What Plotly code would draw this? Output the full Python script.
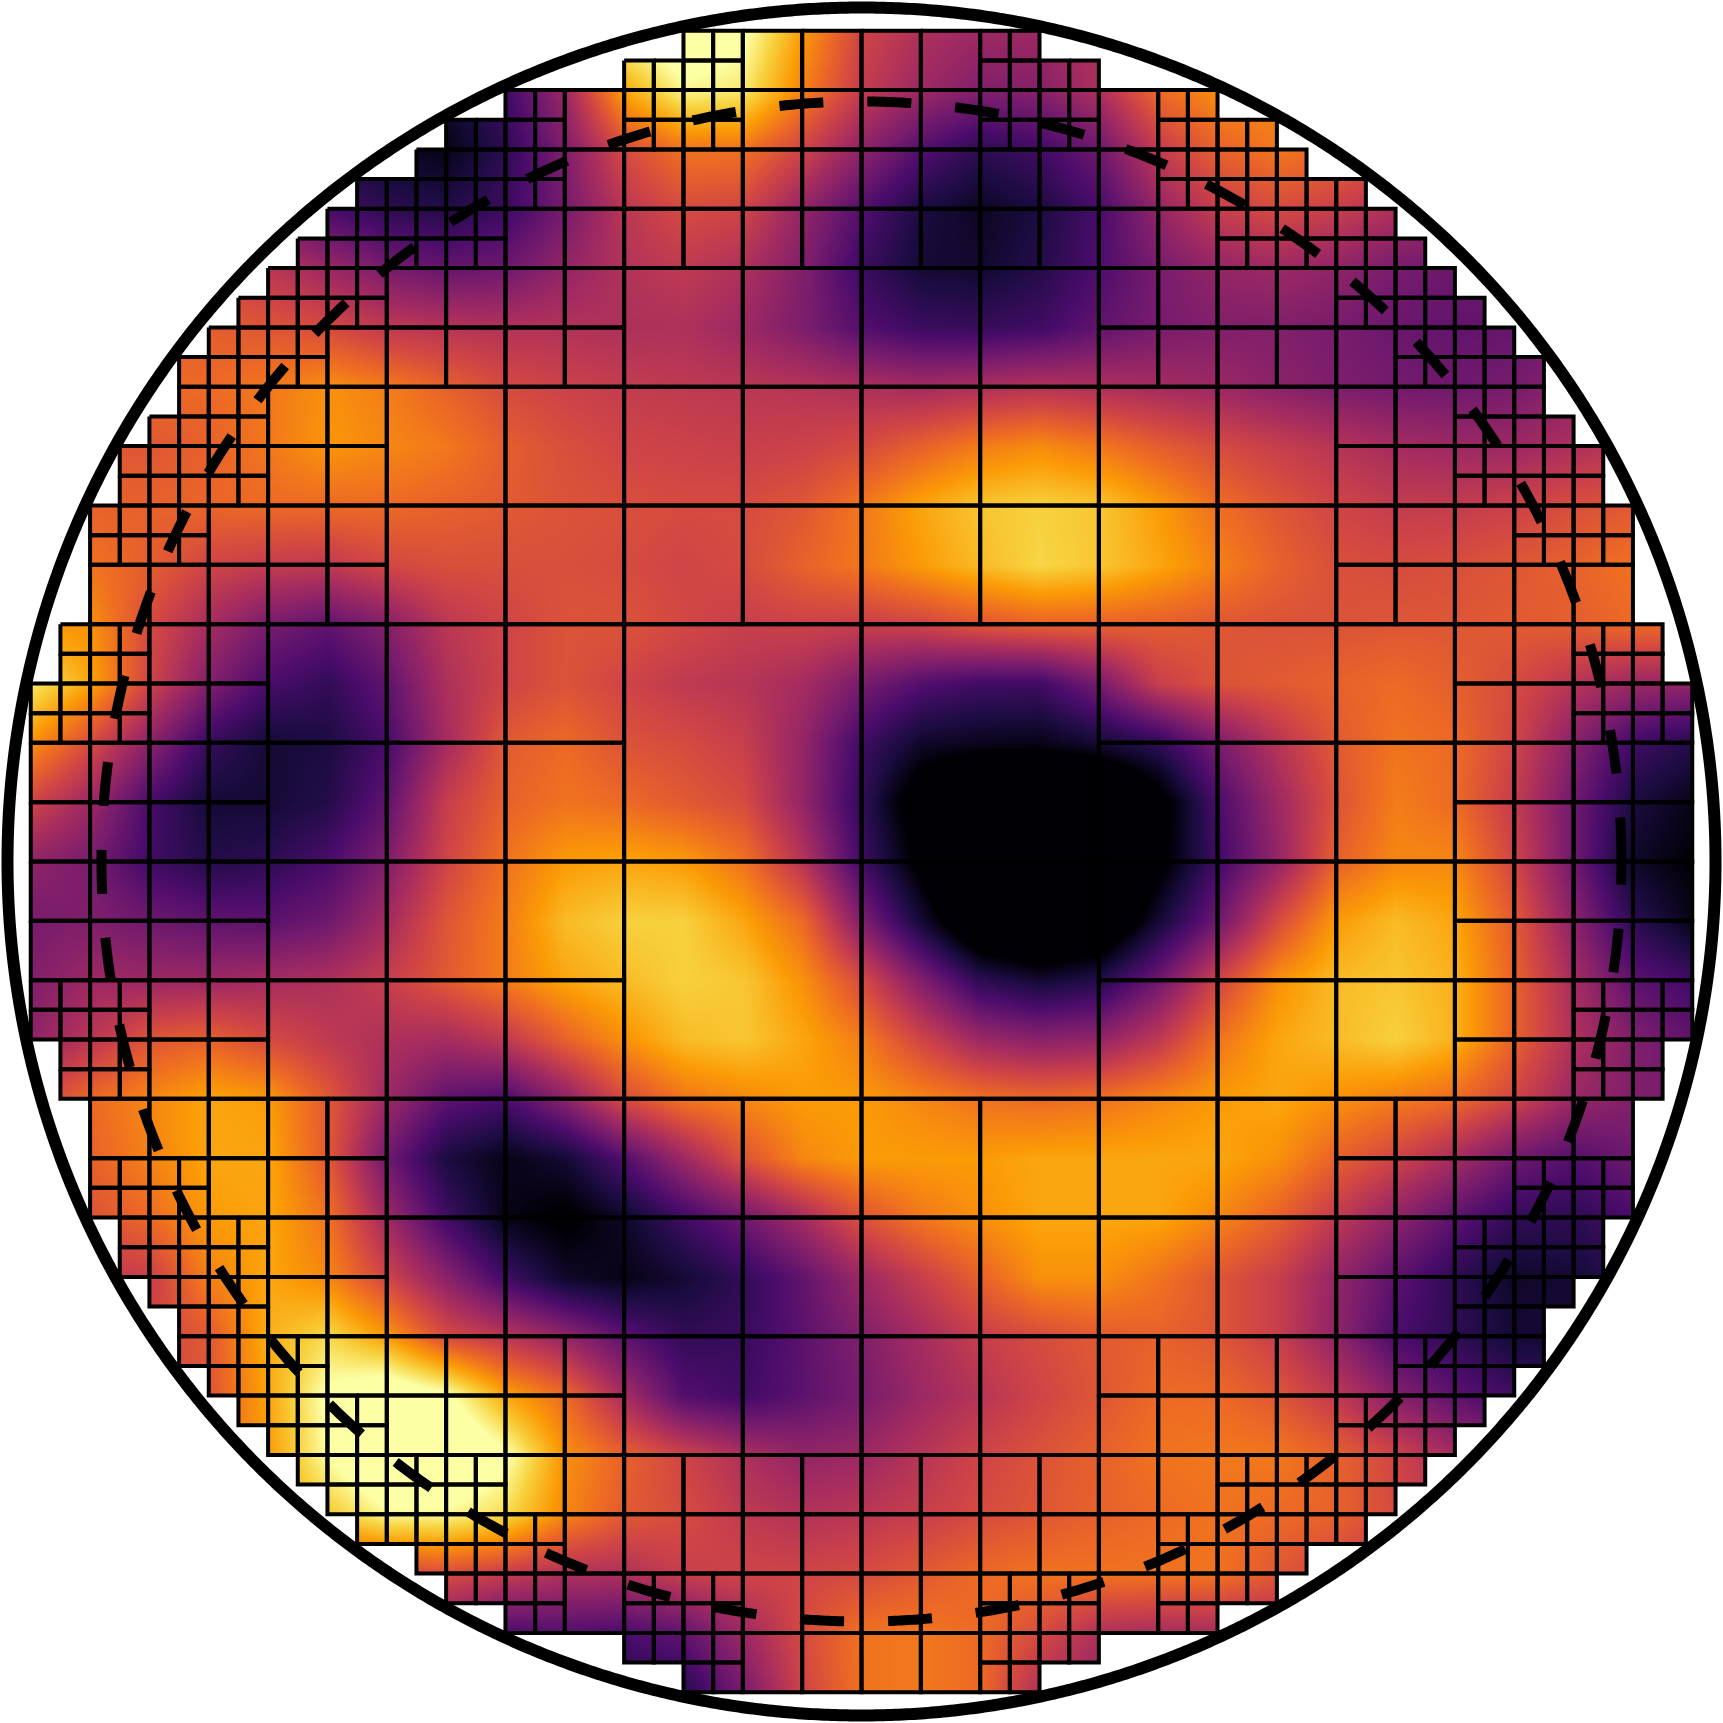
import numpy as np
import plotly.graph_objects as go

# half width of the masked grid per fine row, top half only (bottom mirrors it)
half_widths = [6, 8, 12, 14, 15, 17, 18, 19, 20, 21, 22, 23, 23, 24,
               25, 25, 26, 26, 26, 26, 27, 27, 28, 28, 28, 28, 28, 28]

# refinement map, one char per 2x2 fine block: f = split in 4, 2 = single block, 4 / 8 = part of a larger cell
tree_rows = [
    "..........ff2222ff..........",
    ".......ff2ff2222ff2ff.......",
    ".....ffff2222222222ffff.....",
    "....ffff222222222222ffff....",
    "...fff222244444444" + "2222fff...",
    "..fff22222444444442" + "2222fff..",
    "..ff224444444444444444" + "22ff..",
    ".fff224444444444444444" + "22fff.",
    ".ff222444444444444444" + "4222ff.",
    ".22222444444444444444" + "422222.",
    "ff2244444488888888444444" + "22ff",
    "ff2244444488888888444444" + "22ff",
    "2222444444888888884444442222",
    "2222444444888888884444442222",
    "2222444444888888884444442222",
    "2222444444888888884444442222",
    "ff2244444488888888444444" + "22ff",
    "ff2244444488888888444444" + "22ff",
    ".22222444444444444444" + "422222.",
    ".ff222444444444444444" + "4222ff.",
    ".fff224444444444444444" + "22fff.",
    "..ff224444444444444444" + "22ff..",
    "..fff2222244444444" + "22222fff..",
    "...fff222244444444" + "2222fff...",
    "....ffff222222222222ffff....",
    ".....ffff2222222222ffff.....",
    ".......ff2ff2222ff2ff.......",
    "..........ff2222ff..........",
]

# field values, top row first, nodes every 2 fine cells
z_rows = [
    [30,30,30,30,30,30,30,40,55,75,90,100,92,70,50,42,38,38,42,50,55,60,60,60,55,50,45,40,40],
    [30,30,30,30,25,15,10,8,18,38,72,88,85,65,47,38,32,33,42,60,68,66,60,55,50,50,45,40,40],
    [25,25,25,25,20,10,5,3,14,32,52,62,62,50,35,22,14,18,28,47,58,63,60,52,48,48,45,40,40],
    [50,50,45,35,28,20,14,12,17,30,45,52,50,36,22,10,5,10,20,36,48,52,48,42,35,35,35,35,35],
    [55,55,52,50,45,38,30,26,28,36,43,46,42,32,17,8,7,12,21,30,36,38,35,30,27,27,30,30,30],
    [58,58,58,57,55,52,46,44,43,43,42,42,38,31,22,17,16,18,25,30,32,32,30,27,25,26,28,30,30],
    [60,60,60,60,63,68,64,58,52,49,47,46,45,44,42,40,42,44,42,40,38,34,31,29,28,30,35,35,35],
    [55,55,55,58,63,69,66,63,57,53,50,49,48,49,52,58,64,67,63,57,52,48,44,40,38,38,42,45,45],
    [58,58,58,59,60,60,60,58,56,54,53,52,52,55,63,72,78,80,78,70,61,55,50,47,47,49,53,56,56],
    [64,62,57,50,47,46,51,53,53,53,52,50,52,58,63,70,76,81,78,72,65,58,53,52,53,55,58,62,62],
    [70,68,52,40,30,25,33,45,50,54,54,51,48,49,48,50,55,58,58,57,55,54,54,55,55,56,57,60,60],
    [85,72,50,32,20,15,25,42,50,54,50,46,44,40,30,22,18,18,30,48,54,56,58,60,57,52,44,38,36],
    [68,52,34,16,8,10,20,40,56,60,54,52,48,36,18,6,4,3,8,14,30,44,56,62,60,50,33,18,12],
    [50,38,20,8,8,12,25,48,58,62,60,56,52,36,15,-8,-25,-30,-25,-5,20,38,54,64,60,47,28,10,3],
    [35,30,18,12,14,20,32,50,62,70,72,70,62,44,18,-3,-30,-35,-28,-3,18,36,58,66,66,50,28,6,0],
    [30,32,28,25,24,28,40,55,64,76,80,80,72,60,32,8,-15,-22,-15,8,28,52,70,76,72,56,34,14,3],
    [32,38,38,38,40,42,48,56,64,72,76,80,78,68,52,32,14,8,12,28,50,68,76,78,74,58,40,24,18],
    [35,45,55,58,52,46,42,40,46,58,68,76,78,72,64,50,38,34,36,46,62,72,76,80,74,58,42,32,25],
    [50,60,66,72,70,56,38,24,20,34,52,62,66,70,70,66,62,60,62,66,70,72,68,64,60,50,37,32,30],
    [50,58,65,72,72,56,28,10,3,8,22,38,54,66,70,70,70,72,72,72,72,68,58,50,40,28,22,28,30],
    [50,54,60,70,72,62,38,18,3,-2,6,18,28,40,54,63,68,72,72,72,66,58,46,35,24,15,14,20,25],
    [45,45,48,65,72,66,50,34,18,6,3,8,15,25,38,48,58,68,68,62,55,48,36,24,14,6,8,15,20],
    [45,45,50,56,74,82,70,52,45,36,24,15,16,24,32,40,48,52,56,58,55,48,35,20,14,8,8,15,20],
    [50,50,50,55,72,92,100,92,72,60,40,22,18,24,30,38,44,50,55,60,60,55,46,33,24,18,15,20,25],
    [60,60,60,60,70,90,105,106,92,68,58,50,42,36,38,44,50,54,58,62,63,63,58,50,40,35,30,30,30],
    [65,65,65,65,70,78,88,88,82,66,56,52,46,43,45,48,52,55,58,60,62,60,58,52,45,40,35,30,30],
    [50,50,50,50,50,50,50,52,47,42,42,48,50,50,52,56,60,62,62,62,62,55,50,45,40,35,30,30,30],
    [30,30,30,30,30,30,30,30,20,22,20,25,38,52,62,63,60,52,42,40,40,40,40,40,40,35,30,30,30],
    [30,30,30,30,30,30,30,30,15,15,12,12,30,50,62,63,60,42,35,35,35,35,35,35,35,30,30,30,30],
]

SIZE = 1723
CELL_PX = 29.67
EXTENT = SIZE / 2 / CELL_PX
DOMAIN = 28
DASH_RADIUS = 760 / CELL_PX
RING_RADIUS = 854 / CELL_PX


def row_half_width(r):
    return half_widths[r] if r < DOMAIN else half_widths[2 * DOMAIN - 1 - r]


def rect_path(x0, y0, size):
    return [x0, x0 + size, x0 + size, x0, x0, None], [y0, y0, y0 - size, y0 - size, y0, None]


def grid_lines():
    xs, ys = [], []
    seen = set()
    for b, row in enumerate(tree_rows):
        for k, ch in enumerate(row):
            if ch == '.' or (b, k) in seen:
                continue
            blocks = {'2': 1, '4': 2, '8': 4}.get(ch)
            left, top = -DOMAIN + 2 * k, DOMAIN - 2 * b
            if ch == 'f':
                # the fine cells get cut by the circular mask
                for r in (2 * b, 2 * b + 1):
                    for c in (2 * k, 2 * k + 1):
                        if abs(c - DOMAIN + 0.5) < row_half_width(r):
                            px, py = rect_path(c - DOMAIN, DOMAIN - r, 1)
                            xs += px
                            ys += py
                continue
            for bb in range(b, b + blocks):
                for kk in range(k, k + blocks):
                    seen.add((bb, kk))
            px, py = rect_path(left, top, 2 * blocks)
            xs += px
            ys += py
    return xs, ys


def outside_mask():
    # square ring whose inner edge is the staircase of the grid
    far = EXTENT + 1
    xs = [-far, far, far, -far, -far]
    ys = [far, far, -far, -far, far]
    stair_x, stair_y = [], []
    for r in range(2 * DOMAIN):
        hw = row_half_width(r)
        stair_x += [-hw, -hw]
        stair_y += [DOMAIN - r, DOMAIN - r - 1]
    for r in reversed(range(2 * DOMAIN)):
        hw = row_half_width(r)
        stair_x += [hw, hw]
        stair_y += [DOMAIN - r - 1, DOMAIN - r]
    stair_x.append(stair_x[0])
    stair_y.append(stair_y[0])
    return xs + stair_x + [-far], ys + stair_y + [far]


node_x = np.arange(-DOMAIN, DOMAIN + 1, 2)
node_y = np.arange(-DOMAIN, DOMAIN + 1, 2)
theta = np.linspace(0, 2 * np.pi, 1441)

fig = go.Figure()
fig.add_trace(go.Heatmap(x=node_x, y=node_y, z=z_rows[::-1], zmin=0, zmax=90, zsmooth='best',
                         colorscale='Inferno', showscale=False, hoverinfo='skip'))

mask_x, mask_y = outside_mask()
fig.add_trace(go.Scatter(x=mask_x, y=mask_y, mode='lines', fill='toself', fillcolor='white',
                         line=dict(width=0), hoverinfo='skip'))
# strip over the seam of the ring polygon
far = EXTENT + 1
fig.add_trace(go.Scatter(x=[-far, far, far, -far, -far], y=[DOMAIN, DOMAIN, far, far, DOMAIN], mode='lines',
                         fill='toself', fillcolor='white', line=dict(width=0), hoverinfo='skip'))

grid_x, grid_y = grid_lines()
fig.add_trace(go.Scatter(x=grid_x, y=grid_y, mode='lines', line=dict(color='black', width=4), hoverinfo='skip'))

fig.add_trace(go.Scatter(x=DASH_RADIUS * np.cos(theta), y=DASH_RADIUS * np.sin(theta), mode='lines',
                         line=dict(color='black', width=10, dash='44px,44px', simplify=False), hoverinfo='skip'))
fig.add_trace(go.Scatter(x=RING_RADIUS * np.cos(theta), y=RING_RADIUS * np.sin(theta), mode='lines',
                         line=dict(color='black', width=12, simplify=False), hoverinfo='skip'))

fig.update_layout(width=SIZE, height=SIZE, margin=dict(l=0, r=0, t=0, b=0), showlegend=False,
                  paper_bgcolor='white', plot_bgcolor='white',
                  xaxis=dict(range=[-EXTENT, EXTENT], visible=False, fixedrange=True),
                  yaxis=dict(range=[-EXTENT, EXTENT], visible=False, fixedrange=True))

fig.write_html("out.html", config=dict(displayModeBar=False),
               post_script="document.body.style.margin='0';document.documentElement.style.overflow='hidden';")
